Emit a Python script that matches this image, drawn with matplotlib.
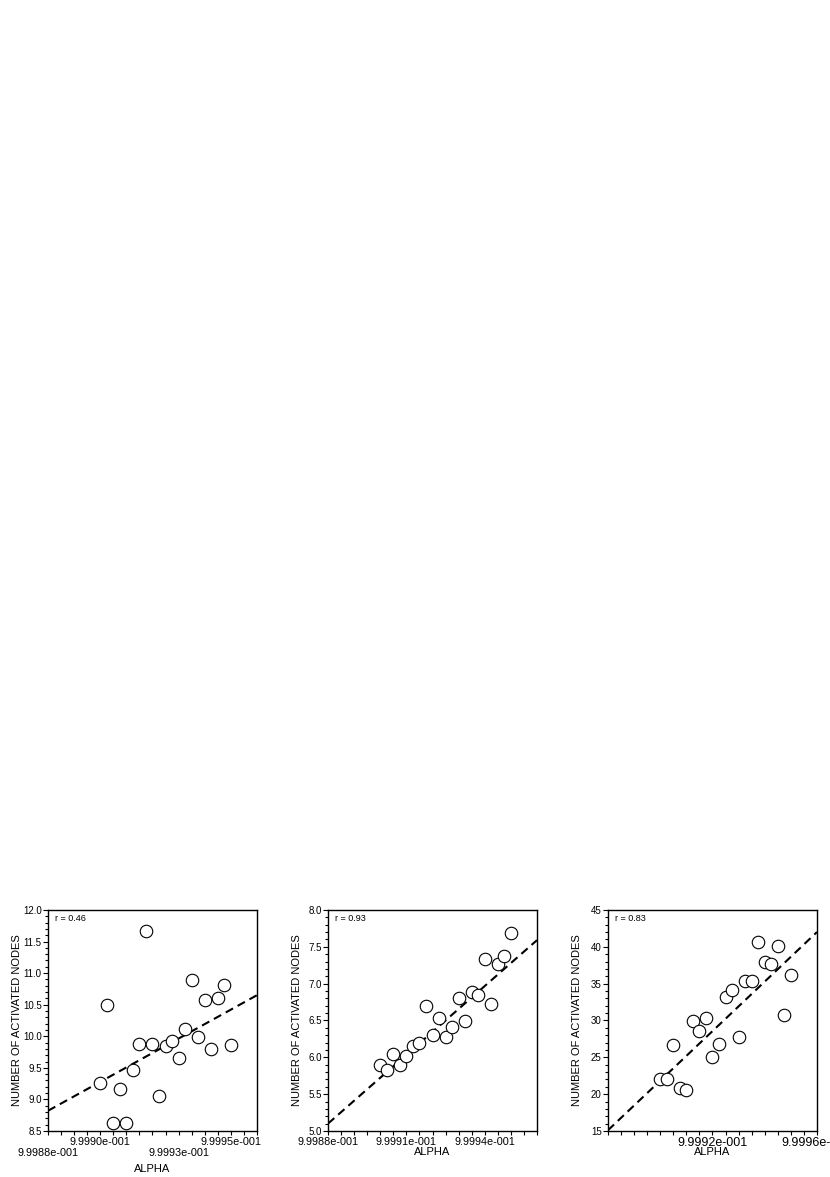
import matplotlib
matplotlib.use("Agg")
import matplotlib.pyplot as plt
from matplotlib.ticker import MultipleLocator

plt.rcParams['font.family'] = ['Liberation Sans', 'DejaVu Sans']

# alpha values shared by the three panels
alpha = [0.9999000, 0.9999025, 0.9999050, 0.9999075, 0.9999100, 0.9999125, 0.9999150,
         0.9999175, 0.9999200, 0.9999225, 0.9999250, 0.9999275, 0.9999300, 0.9999325,
         0.9999350, 0.9999375, 0.9999400, 0.9999425, 0.9999450, 0.9999475, 0.9999500]

nodes_a = [9.26, 10.49, 8.62, 9.17, 8.62, 9.46, 9.87, 11.66, 9.87, 9.05, 9.84,
           9.93, 9.66, 10.12, 10.89, 9.99, 10.58, 9.80, 10.60, 10.81, 9.86]
nodes_b = [5.90, 5.83, 6.04, 5.90, 6.02, 6.16, 6.19, 6.70, 6.30, 6.53, 6.28,
           6.41, 6.80, 6.49, 6.88, 6.85, 7.33, 6.72, 7.27, 7.37, 7.69]
nodes_c = [22.1, 22.1, 26.7, 20.8, 20.6, 29.9, 28.6, 30.3, 25.1, 26.8, 33.2,
           34.2, 27.7, 35.3, 35.4, 40.6, 37.9, 37.7, 40.1, 30.8, 36.2]

# regression line values at the two ends of the x range
fit_x = [0.99988, 0.99996]
fit_a = [8.82, 10.65]
fit_b = [5.10, 7.59]
fit_c = [15.1, 42.0]

r_text = ["r = 0.46", "r = 0.93", "r = 0.83"]

xtick_a = [0.99988, 0.99990, 0.99993, 0.99995]
xlab_a = ["9.9988e-001", "9.9990e-001", "9.9993e-001", "9.9995e-001"]
xtick_b = [0.99988, 0.99991, 0.99994]
xlab_b = ["9.9988e-001", "9.9991e-001", "9.9994e-001"]
xtick_c = [0.99992, 0.99996]
xlab_c = ["9.9992e-001", "9.9996e-001"]

ylims = [(8.5, 12.0), (5.0, 8.0), (15, 45)]
yticks = [[8.5, 9.0, 9.5, 10.0, 10.5, 11.0, 11.5, 12.0],
          [5.0, 5.5, 6.0, 6.5, 7.0, 7.5, 8.0],
          [15, 20, 25, 30, 35, 40, 45]]
ylabs = [["8.5", "9.0", "9.5", "10.0", "10.5", "11.0", "11.5", "12.0"],
         ["5.0", "5.5", "6.0", "6.5", "7.0", "7.5", "8.0"],
         ["15", "20", "25", "30", "35", "40", "45"]]
yminor = [0.1, 0.1, 1]

fig = plt.figure(figsize=(8.3, 11.77), dpi=100)

lefts = [0.0578, 0.3952, 0.7325]
ys = [nodes_a, nodes_b, nodes_c]
fits = [fit_a, fit_b, fit_c]
xticks = [xtick_a, xtick_b, xtick_c]
xlabs = [xlab_a, xlab_b, xlab_c]

for i in range(3):
    ax = fig.add_axes([lefts[i], 0.0391, 0.2518, 0.1878])
    ax.plot(fit_x, fits[i], color='black', lw=1.5, dashes=(4, 2.5), zorder=2)
    ax.plot(alpha, ys[i], linestyle='none', marker='o', markersize=9,
            markerfacecolor='white', markeredgecolor='black', markeredgewidth=0.8, zorder=3)
    ax.set_xlim(0.99988, 0.99996)
    ax.set_ylim(*ylims[i])

    ax.set_xticks(xticks[i])
    ax.set_xticklabels(xlabs[i], fontsize=9 if i == 2 else 7.8)
    ax.xaxis.set_minor_locator(MultipleLocator(0.000005))
    ax.set_yticks(yticks[i])
    ax.set_yticklabels(ylabs[i], fontsize=7)
    ax.yaxis.set_minor_locator(MultipleLocator(yminor[i]))

    ax.tick_params(axis='x', which='both', direction='out', length=3, width=0.8, pad=1.5)
    ax.tick_params(axis='y', which='major', direction='out', length=3.5, width=0.8, pad=1)
    ax.tick_params(axis='y', which='minor', direction='out', length=2.5, width=0.8)

    if i == 0:
        # staggered labels in the first panel
        for k, t in enumerate(ax.xaxis.get_major_ticks()):
            if k % 2 == 0:
                t.set_pad(9.5)

    for s in ax.spines.values():
        s.set_linewidth(1.0)

    ax.set_xlabel("ALPHA", fontsize=8, va='top')
    ax.xaxis.set_label_coords(0.5, -0.149 if i == 0 else -0.072)
    ax.set_ylabel("NUMBER OF ACTIVATED NODES", fontsize=8)
    ax.yaxis.set_label_coords(-0.124, 0.5)

    ax.text(0.035, 0.96, r_text[i], transform=ax.transAxes, fontsize=6.5,
            ha='left', va='center')

fig.savefig("out.png", dpi=100)
